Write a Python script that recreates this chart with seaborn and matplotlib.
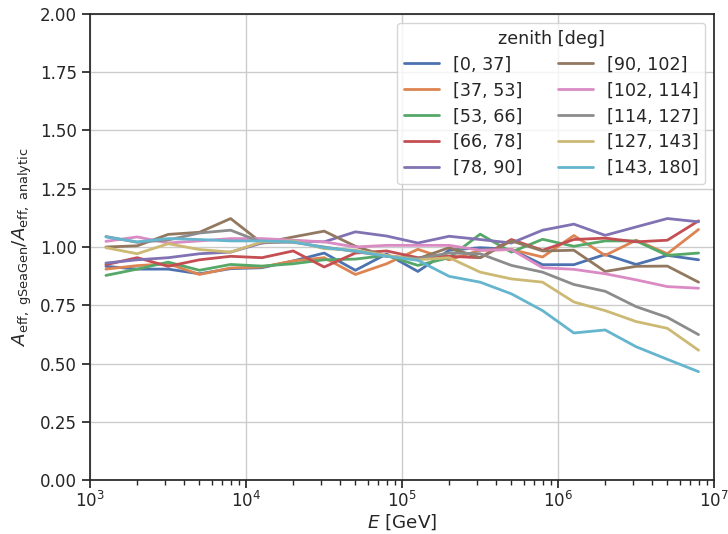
import matplotlib
matplotlib.use("Agg")
import matplotlib.pyplot as plt
import seaborn as sns
import numpy as np
import pandas as pd

# energy bin centres [GeV], 5 bins per decade
energy = [1.26e3, 2.0e3, 3.16e3, 5.01e3, 7.94e3,
          1.26e4, 2.0e4, 3.16e4, 5.01e4, 7.94e4,
          1.26e5, 2.0e5, 3.16e5, 5.01e5, 7.94e5,
          1.26e6, 2.0e6, 3.16e6, 5.01e6, 7.94e6]

zenith_bins = ["[0, 37]", "[37, 53]", "[53, 66]", "[66, 78]", "[78, 90]",
               "[90, 102]", "[102, 114]", "[114, 127]", "[127, 143]", "[143, 180]"]

ratio_0_37 = [0.917, 0.905, 0.905, 0.885, 0.907, 0.911, 0.940, 0.974, 0.900, 0.970,
              0.895, 0.986, 0.997, 0.989, 0.924, 0.924, 0.968, 0.925, 0.964, 0.945]
ratio_37_53 = [0.905, 0.920, 0.928, 0.882, 0.910, 0.914, 0.940, 0.954, 0.882, 0.928,
               0.990, 0.945, 0.986, 0.989, 0.957, 1.049, 0.964, 1.029, 0.971, 1.075]
ratio_53_66 = [0.878, 0.905, 0.935, 0.900, 0.925, 0.918, 0.928, 0.945, 0.948, 0.964,
               0.921, 0.954, 1.055, 0.978, 1.033, 1.003, 1.026, 1.026, 0.964, 0.974]
ratio_66_78 = [0.924, 0.954, 0.917, 0.945, 0.960, 0.954, 0.983, 0.914, 0.974, 0.983,
               0.954, 0.960, 0.954, 1.032, 0.986, 1.032, 1.038, 1.022, 1.029, 1.112]
ratio_78_90 = [0.931, 0.945, 0.954, 0.971, 0.978, 1.017, 1.026, 1.022, 1.065, 1.047,
               1.017, 1.046, 1.032, 1.017, 1.072, 1.098, 1.050, 1.086, 1.122, 1.108]
ratio_90_102 = [1.000, 1.005, 1.054, 1.063, 1.122, 1.017, 1.043, 1.068, 1.003, 0.960,
                0.950, 0.997, 0.954, 1.026, 0.983, 0.986, 0.895, 0.917, 0.918, 0.849]
ratio_102_114 = [1.024, 1.043, 1.017, 1.026, 1.036, 1.036, 1.029, 1.022, 1.000, 1.007,
                 1.007, 1.007, 0.986, 0.989, 0.911, 0.904, 0.885, 0.859, 0.830, 0.823]
ratio_114_127 = [1.045, 1.020, 1.030, 1.060, 1.072, 1.020, 1.020, 1.000, 0.980, 0.960,
                 0.950, 0.974, 0.971, 0.921, 0.892, 0.839, 0.810, 0.744, 0.698, 0.624]
ratio_127_143 = [0.997, 0.971, 1.014, 0.989, 0.978, 1.022, 1.026, 0.993, 0.986, 0.964,
                 0.945, 0.954, 0.892, 0.863, 0.849, 0.764, 0.727, 0.680, 0.651, 0.557]
ratio_143_180 = [1.043, 1.022, 1.036, 1.032, 1.026, 1.026, 1.022, 0.997, 0.983, 0.960,
                 0.943, 0.874, 0.849, 0.799, 0.727, 0.631, 0.644, 0.572, 0.518, 0.465]

ratios = [ratio_0_37, ratio_37_53, ratio_53_66, ratio_66_78, ratio_78_90,
          ratio_90_102, ratio_102_114, ratio_114_127, ratio_127_143, ratio_143_180]

rows = []
for label, vals in zip(zenith_bins, ratios):
    for e, r in zip(energy, vals):
        rows.append({"E": e, "ratio": r, "zenith [deg]": label})
df = pd.DataFrame(rows)

sns.set_theme(context="notebook", style="ticks", font_scale=1.1)
plt.rcParams["font.family"] = ["DejaVu Sans"]

fig, ax = plt.subplots(figsize=(7.28, 5.34), dpi=100)
sns.lineplot(data=df, x="E", y="ratio", hue="zenith [deg]",
             hue_order=zenith_bins, palette="deep", linewidth=2, ax=ax)

ax.set_xscale("log")
ax.set_xlim(1e3, 1e7)
ax.set_ylim(0, 2)
ax.set_yticks(np.arange(0, 2.01, 0.25))
ax.yaxis.set_major_formatter(matplotlib.ticker.FormatStrFormatter("%.2f"))
ax.tick_params(axis="x", which="major", pad=2)
ax.tick_params(axis="x", which="minor", length=3.5, width=1, bottom=True)
ax.grid(True, which="major", color="#cccccc", linewidth=1)
ax.set_xlabel(r"$E$ [GeV]", labelpad=1)
ax.set_ylabel(r"$A_{\mathrm{eff,\ gSeaGen}}/A_{\mathrm{eff,\ analytic}}$")

ax.legend(title="zenith [deg]", ncol=2, loc="upper right",
          fontsize=12.6, title_fontsize=12.6, labelspacing=0.45)

fig.subplots_adjust(left=0.124, right=0.981, top=0.974, bottom=0.101)
fig.savefig("out.png")
